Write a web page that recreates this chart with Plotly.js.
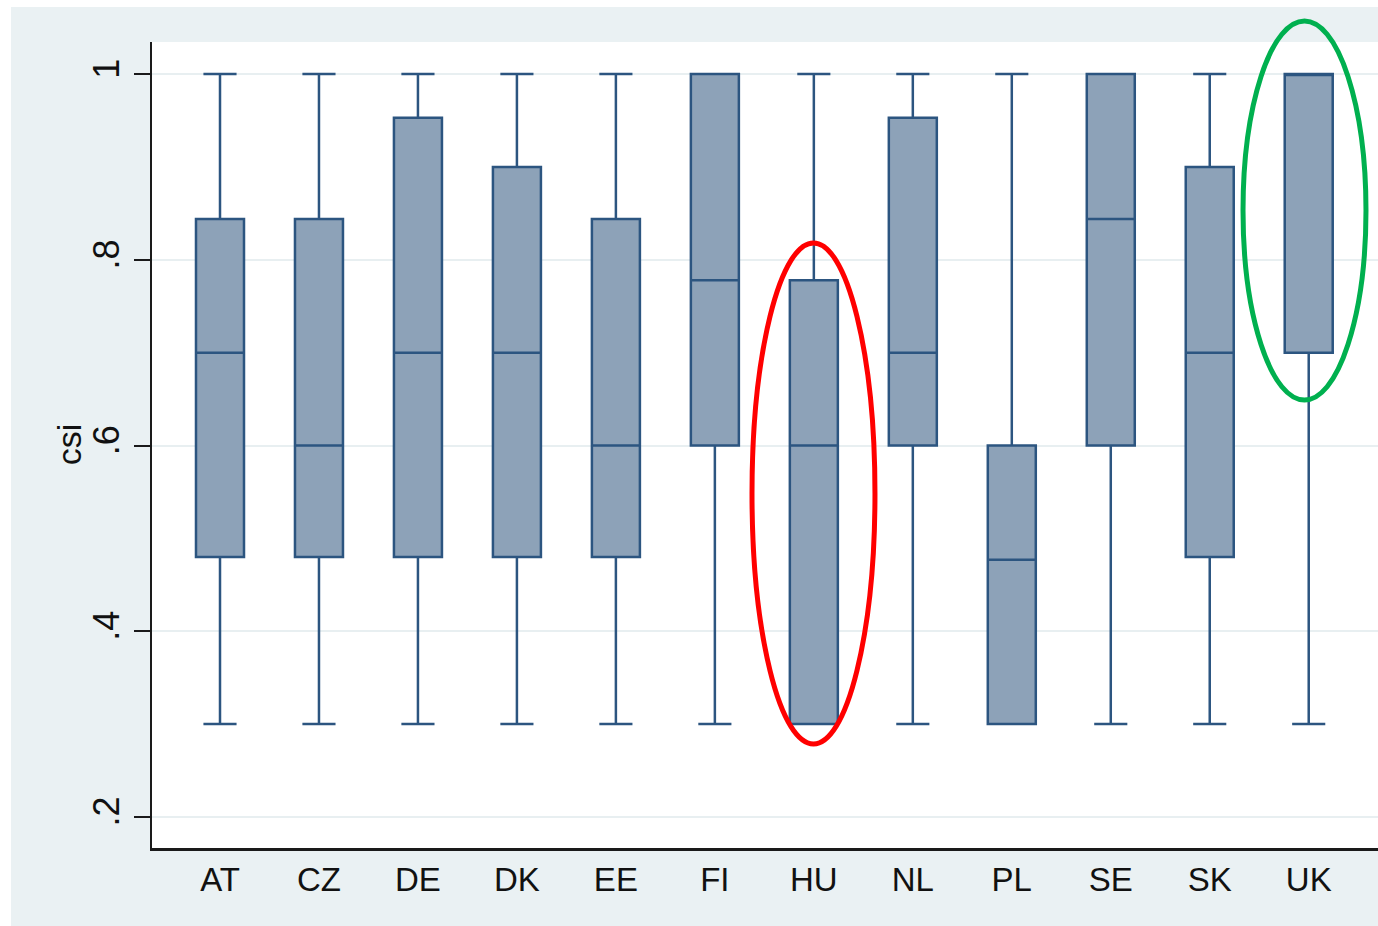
<!DOCTYPE html>
<html>
<head>
<meta charset="utf-8">
<script src="https://cdn.plot.ly/plotly-3.0.1.min.js"></script>
<style>
html,body{margin:0;padding:0;background:#ffffff;}
#chart{position:absolute;left:11px;top:7px;width:1367px;height:919px;}
</style>
</head>
<body>
<div id="chart"></div>
<script>
const countries = ['AT','CZ','DE','DK','EE','FI','HU','NL','PL','SE','SK','UK'];
const lowerWhisker = [0.3,0.3,0.3,0.3,0.3,0.3,0.3,0.3,0.3,0.3,0.3,0.3];
const q1 =      [0.48,0.48,0.48,0.48,0.48,0.6,0.3,0.6,0.3,0.6,0.48,0.7];
const medians = [0.7,0.6,0.7,0.7,0.6,0.778,0.6,0.7,0.477,0.844,0.7,1.0];
const q3 =      [0.844,0.844,0.953,0.9,0.844,1.0,0.778,0.953,0.6,1.0,0.9,1.0];
const upperWhisker = [1,1,1,1,1,1,1,1,1,1,1,1];
const yTickVals = [0.2,0.4,0.6,0.8,1];
const yTickText = ['.2','.4','.6','.8','1'];

const trace = {
  type: 'box',
  x: countries,
  q1: q1,
  median: medians,
  q3: q3,
  lowerfence: lowerWhisker,
  upperfence: upperWhisker,
  boxpoints: false,
  width: 0.485,
  whiskerwidth: 0.69,
  fillcolor: '#8da2b8',
  line: {color: '#2c5580', width: 2.5},
  hoverinfo: 'skip',
  showlegend: false
};

const layout = {
  width: 1367, height: 919,
  margin: {l: 141, r: 0, t: 35, b: 78},
  paper_bgcolor: '#eaf1f3',
  plot_bgcolor: '#ffffff',
  font: {family: 'Liberation Sans, Arial, sans-serif', color: '#111111', size: 33},
  showlegend: false,
  xaxis: {
    type: 'category',
    categoryorder: 'array',
    categoryarray: countries,
    range: [-0.687, 11.70],
    showgrid: false,
    zeroline: false,
    showline: true,
    linecolor: '#1a1a1a',
    linewidth: 2.5,
    ticks: '',
    tickfont: {size: 33, color: '#111111'},
    ticklabelstandoff: 1,
    fixedrange: true
  },
  yaxis: {
    range: [0.1666, 1.0345],
    tickvals: yTickVals,
    ticktext: yTickText,
    tickangle: -90,
    ticks: 'outside',
    ticklen: 16,
    tickwidth: 2,
    tickcolor: '#1a1a1a',
    tickfont: {size: 36, color: '#111111'},
    ticklabelstandoff: 0,
    showgrid: true,
    gridcolor: '#e8eff1',
    gridwidth: 2,
    zeroline: false,
    showline: true,
    linecolor: '#1a1a1a',
    linewidth: 2.5,
    fixedrange: true
  },
  annotations: [
    {text: 'csi', xref: 'paper', yref: 'paper', x: -0.0677, y: 0.501,
     xanchor: 'center', yanchor: 'middle', textangle: -90, showarrow: false,
     font: {size: 34, color: '#111111'}}
  ],
  shapes: [
    {type: 'circle', xref: 'paper', yref: 'paper',
     x0: 0.4894, x1: 0.5897, y0: 0.129, y1: 0.7506,
     line: {color: '#ff0000', width: 5}, fillcolor: 'rgba(0,0,0,0)'},
    {type: 'circle', xref: 'paper', yref: 'paper',
     x0: 0.8899, x1: 0.9902, y0: 0.5558, y1: 1.0261,
     line: {color: '#00b04f', width: 5}, fillcolor: 'rgba(0,0,0,0)'}
  ]
};

Plotly.newPlot('chart', [trace], layout, {displayModeBar: false, staticPlot: true});
</script>
</body>
</html>
